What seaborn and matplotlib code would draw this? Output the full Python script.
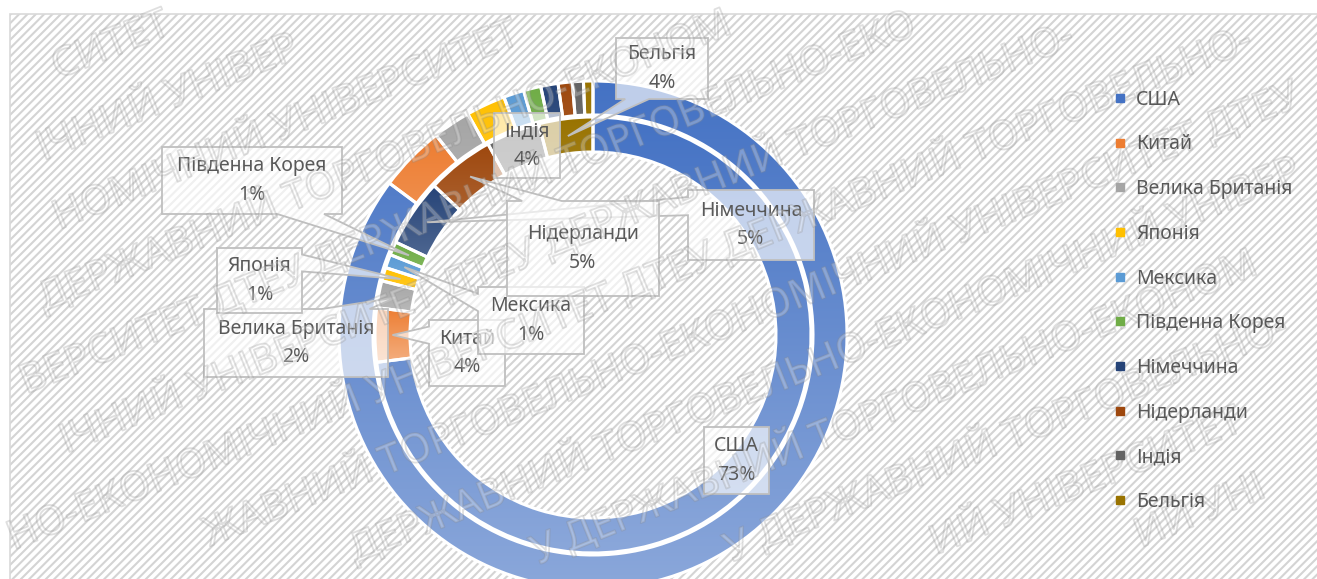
import numpy as np
import matplotlib
matplotlib.use("Agg")
import matplotlib.pyplot as plt
import matplotlib.colors as mcolors
import matplotlib.patheffects as pe
from matplotlib.patches import Rectangle, Polygon
from matplotlib.lines import Line2D
import seaborn as sns

# data: share of each country (inner ring is labelled, outer ring is not)
countries = ["США", "Китай", "Велика Британія", "Японія", "Мексика",
             "Південна Корея", "Німеччина", "Нідерланди", "Індія", "Бельгія"]
inner_share = [73, 4, 2, 1, 1, 1, 5, 5, 4, 4]
outer_share = [85.2, 4.2, 2.4, 2.5, 1.3, 1.1, 1.1, 0.9, 0.7, 0.6]
palette = ["#4472C4", "#ED7D31", "#A5A5A5", "#FFC000", "#5B9BD5",
           "#70AD47", "#264478", "#9E480E", "#636363", "#997300"]

W, H = 1317, 579
TXT = "#595959"
sns.set_theme(style="white")
plt.rcParams["font.family"] = ["Noto Sans", "DejaVu Sans"]
plt.rcParams["hatch.linewidth"] = 1.5

fig = plt.figure(figsize=(W / 100, H / 100), dpi=100)
ax = fig.add_axes([0, 0, 1, 1])
ax.set_axis_off()

# chart area: hatched background + thin border
ax.add_patch(Rectangle((10, -10), W, H - 14 + 10, facecolor="white",
                       edgecolor="#D4D4D4", hatch="////", linewidth=0, zorder=0))
ax.add_patch(Rectangle((10, -10), W, H - 14 + 10, fill=False,
                       edgecolor="#D9D9D9", linewidth=1.2, zorder=0.5))

center = (593, H - 335)
wp = dict(edgecolor="white", linewidth=2.2)
outer_w, _ = ax.pie(outer_share, radius=254, center=center, startangle=90,
                    counterclock=False, wedgeprops=dict(width=34, **wp))
inner_w, _ = ax.pie(inner_share, radius=218, center=center, startangle=90,
                    counterclock=False, wedgeprops=dict(width=35, **wp))


def fill_gradient(wedge, color):
    v = wedge.get_path().vertices
    x0, x1 = v[:, 0].min(), v[:, 0].max()
    y0, y1 = v[:, 1].min(), v[:, 1].max()
    base = np.array(mcolors.to_rgb(color))
    t = np.linspace(0, 0.38, 256)[:, None]
    grad = base + (1 - base) * t
    img = np.repeat(grad[:, None, :], 2, axis=1)
    im = ax.imshow(img, extent=[x0, x1, y0, y1], origin="upper",
                   aspect="auto", interpolation="bilinear", zorder=1)
    im.set_clip_path(wedge)
    wedge.set_facecolor("none")
    wedge.set_zorder(2)


for w, c in zip(outer_w, palette):
    fill_gradient(w, c)
for w, c in zip(inner_w, palette):
    fill_gradient(w, c)

ax.set_xlim(0, W)
ax.set_ylim(0, H)

# label boxes (left, top, right, bottom in pixels from the top-left corner)
label_boxes = [(704, 427, 769, 494), (429, 320, 505, 386), (204, 309, 388, 377),
               (217, 248, 302, 313), (478, 287, 584, 354), (162, 147, 342, 214),
               (688, 190, 814, 260), (507, 201, 659, 296), (494, 113, 560, 178),
               (616, 38, 708, 99)]


def callout_outline(box, tip):
    l, t, r, b = box
    top, bot = H - t, H - b
    cx, cy = (l + r) / 2, (top + bot) / 2
    w, h = r - l, top - bot
    dx, dy = tip[0] - cx, tip[1] - cy
    corners = [(l, bot), (r, bot), (r, top), (l, top)]
    if abs(dx) <= w / 2 and abs(dy) <= h / 2:
        return corners
    f1, f2 = 0.1, 0.36
    if abs(dx) / w > abs(dy) / h:
        ex = l if dx < 0 else r
        if dy > 0:
            pts = [(ex, top - f2 * h), (ex, top - f1 * h)]
        else:
            pts = [(ex, bot + f1 * h), (ex, bot + f2 * h)]
        if dx < 0:   # left edge walked downward
            pts = pts[::-1]
            return corners + [pts[0], tip, pts[1]]
        return corners[:2] + [pts[0], tip, pts[1]] + corners[2:]
    ey = bot if dy < 0 else top
    if dx < 0:
        pts = [(l + f1 * w, ey), (l + f2 * w, ey)]
    else:
        pts = [(r - f2 * w, ey), (r - f1 * w, ey)]
    if dy < 0:   # bottom edge walked to the right
        return corners[:1] + [pts[0], tip, pts[1]] + corners[1:]
    pts = pts[::-1]
    return corners[:3] + [pts[0], tip, pts[1]] + corners[3:]


for i, (w, name, val, box) in enumerate(zip(inner_w, countries, inner_share, label_boxes)):
    ang = np.deg2rad((w.theta1 + w.theta2) / 2)
    rr = w.r - w.width / 2
    tip = (w.center[0] + rr * np.cos(ang), w.center[1] + rr * np.sin(ang))
    outline = callout_outline(box, tip)
    ax.add_patch(Polygon(outline, closed=True, facecolor=(1, 1, 1, 0.66),
                         edgecolor="#BFBFBF", linewidth=1.3, zorder=5 + i * 0.1))
    l, t, r, b = box
    ax.text((l + r) / 2, H - (t + b) / 2, f"{name}\n{val}%", ha="center",
            va="center", fontsize=14, color=TXT, linespacing=1.55,
            zorder=5.05 + i * 0.1)

handles = [Line2D([], [], marker="s", ls="", color=c, markersize=6) for c in palette]
fig.legend(handles, countries, loc="upper left", bbox_to_anchor=(1104 / W, 1 - 80 / H),
           frameon=False, fontsize=14, labelcolor=TXT, handlelength=0.6,
           handletextpad=0.55, labelspacing=1.27, borderpad=0)

# diagonal watermark, drawn in short letter groups; groups that would leave
# the picture are dropped
wm_line = "ДТЕУ ДЕРЖАВНИЙ ТОРГОВЕЛЬНО-ЕКОНОМІЧНИЙ УНІВЕРСИТЕТ "
chunks = []
for word in wm_line.split(" "):
    if not word:
        continue
    for q in range(0, len(word), 3):
        chunks.append(word[q:q + 3])
    chunks.append(" ")
renderer = fig.canvas.get_renderer()
wm_size = 29


def text_width(s):
    tt = ax.text(0, 0, s, fontsize=wm_size)
    wd = tt.get_window_extent(renderer).width
    tt.remove()
    return wd


gap = text_width("Д Д") - 2 * text_width("Д")
widths = {s: (gap if s == " " else text_width(s)) for s in set(chunks)}
a = np.deg2rad(22)
u = np.array([np.cos(a), np.sin(a)])
n = np.array([-np.sin(a), np.cos(a)])
stroke = [pe.Stroke(linewidth=1.3, foreground="#8C8C8C", alpha=0.27)]
for k in range(-8, 9):
    s = -1300.0 + (k % 4) * 110
    j = (k * 5) % len(chunks)
    while s < 1300:
        piece = chunks[j % len(chunks)]
        if piece != " ":
            p = np.array([W / 2, H / 2]) + k * 70 * n + s * u
            tt = ax.text(p[0], p[1], piece, rotation=22, rotation_mode="anchor",
                         ha="left", va="baseline", fontsize=wm_size,
                         color=(1, 1, 1, 0), path_effects=stroke, zorder=20)
            bb = tt.get_window_extent(renderer)
            if bb.x0 < 1 or bb.y0 < 1 or bb.x1 > W - 1 or bb.y1 > H - 1:
                tt.remove()
        s += widths[piece]
        j += 1

ax.set_xlim(0, W)
ax.set_ylim(0, H)
fig.savefig("out.png", dpi=100)
